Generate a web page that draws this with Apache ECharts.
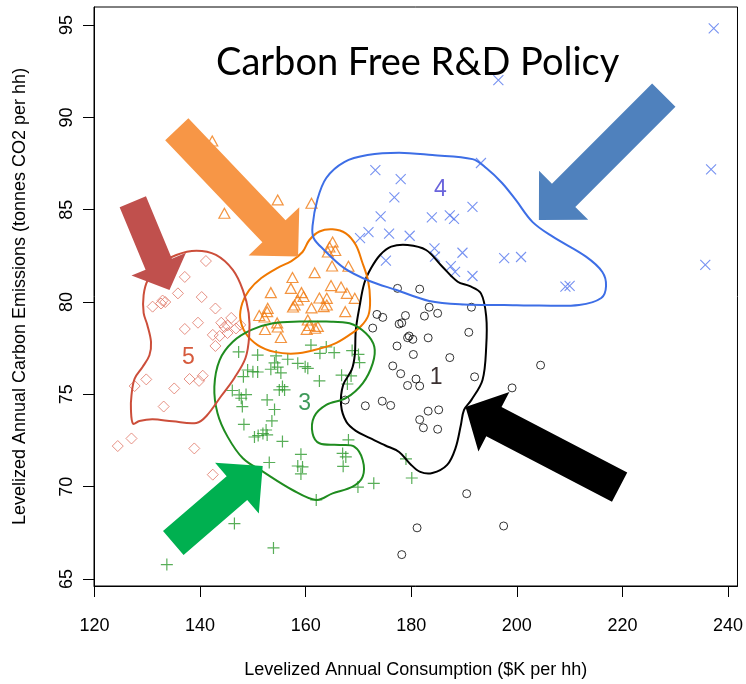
<!DOCTYPE html>
<html>
<head>
<meta charset="utf-8">
<script src="https://cdn.jsdelivr.net/npm/echarts@6/dist/echarts.min.js"></script>
<style>
  html, body { margin: 0; padding: 0; background: #fff; }
  #chart { width: 746px; height: 684px; }
</style>
</head>
<body>
<div id="chart"></div>
<script>
// Axis ticks
const xTicks = [120, 140, 160, 180, 200, 220, 240];
const yTicks = [65, 70, 75, 80, 85, 90, 95];

// Household outcomes per cluster: [consumption $K, emissions t CO2]
const cluster1 = [
  [177.4,80.74],[181.6,80.70],[183.4,79.72],[182.5,79.24],[185.0,79.39],[191.4,79.72],
  [173.5,79.33],[174.6,79.17],[178.9,79.27],[177.7,78.81],[178.2,78.87],[172.7,78.59],
  [179.6,78.16],[179.3,78.07],[180.3,77.98],[183.2,78.06],[190.9,78.36],[177.3,77.62],
  [180.4,77.16],[187.3,76.99],[176.5,76.54],[178.0,76.12],[180.9,75.83],[181.6,75.45],
  [179.3,75.48],[192.0,75.95],[167.5,74.69],[171.3,74.38],[174.5,74.63],[176.1,74.40],
  [183.2,74.09],[185.2,74.16],[181.6,73.63],[182.3,73.19],[185.0,73.11],[204.5,76.58],
  [199.1,75.35],[190.5,69.62],[181.1,67.77],[197.5,67.87],[178.2,66.32]
];
const cluster2 = [
  [142.3,88.72],[144.6,84.81],[154.7,85.53],[161.1,85.35],[165.1,83.25],[164.5,82.98],
  [165.6,82.79],[164.2,82.71],[165.0,81.95],[168.1,81.94],[161.7,81.59],[157.5,81.33],
  [157.2,80.74],[153.4,80.51],[159.2,80.51],[159.6,80.30],[164.8,80.89],[166.7,80.81],
  [167.8,80.47],[169.3,80.20],[162.6,80.22],[164.0,80.20],[164.0,79.84],[163.4,79.75],
  [158.5,80.11],[157.9,79.84],[157.6,79.73],[161.1,79.68],[152.8,79.66],[152.7,79.48],
  [167.5,79.48],[151.2,79.27],[152.2,79.19],[154.6,78.87],[154.7,78.65],[160.4,79.03],
  [160.7,78.73],[162.3,78.68],[161.8,78.58],[160.2,78.52],[152.3,78.51],[155.3,78.08]
];
const cluster3 = [
  [161.0,77.67],[163.9,77.57],[147.3,77.30],[150.9,77.13],[154.4,77.08],[156.6,76.90],
  [162.7,77.22],[165.4,77.26],[168.8,77.37],[170.0,77.16],[170.2,76.72],[154.1,76.70],
  [154.7,76.48],[158.5,76.68],[159.9,76.50],[160.4,76.41],[149.0,76.32],[150.0,76.23],
  [150.9,76.21],[153.4,76.36],[148.2,75.96],[155.3,76.16],[166.8,76.04],[168.6,76.00],
  [162.6,75.73],[167.9,75.56],[155.6,75.42],[155.0,75.24],[156.0,75.24],[146.1,75.21],
  [147.4,74.97],[148.7,74.99],[147.8,74.79],[152.7,74.70],[148.0,74.34],[154.1,74.18],
  [153.6,73.56],[148.3,73.37],[152.5,73.07],[151.9,72.88],[151.0,72.77],[150.3,72.69],
  [152.7,72.80],[155.6,72.45],[168.1,72.53],[153.1,71.31],[159.1,71.75],[158.5,71.12],
  [159.4,71.07],[159.1,70.69],[167.0,71.80],[167.6,71.61],[167.1,71.10],[169.9,69.98],
  [172.9,70.18],[162.0,69.28],[179.0,71.50],[180.1,70.47],[146.5,68.00],[153.9,66.68],
  [133.7,65.78]
];
const cluster4 = [
  [173.2,87.15],[178.0,86.66],[176.8,85.67],[174.2,84.64],[183.9,84.59],[187.3,84.69],
  [188.1,84.51],[191.6,85.15],[193.2,87.53],[170.3,83.46],[171.9,83.79],[175.8,83.71],
  [179.7,83.59],[184.4,82.91],[184.5,82.46],[189.7,82.67],[175.2,82.24],[187.5,81.94],
  [188.3,81.63],[191.6,81.41],[197.6,82.38],[200.8,82.44],[209.2,80.83],[210.0,80.87],
  [196.5,92.02],[237.3,94.82],[236.8,87.19],[235.7,82.01]
];
const cluster5 = [
  [141.1,82.22],[137.1,81.36],[135.8,80.47],[132.9,80.08],[133.4,80.00],[132.6,79.92],
  [131.0,79.75],[140.3,80.27],[142.9,79.65],[137.1,78.54],[139.6,78.88],[145.9,79.14],
  [144.0,78.88],[144.6,78.65],[145.2,78.73],[147.6,78.76],[142.4,78.22],[143.7,78.16],
  [145.2,78.32],[142.9,77.62],[146.8,78.57],[129.8,75.81],[127.6,75.45],[135.1,75.32],
  [138.0,75.83],[139.8,75.73],[140.5,76.01],[133.1,74.34],[127.0,72.61],[124.4,72.20],
  [138.9,72.07],[142.4,70.65]
];

// Density outlines around each cluster (closed rings)
const ring1 = [
  [176.2,83.00],[179.3,83.09],[182.8,82.82],[185.9,81.91],[188.8,81.10],[191.0,80.87],
  [193.2,80.47],[194.2,79.21],[194.2,77.58],[193.5,75.78],[191.4,74.70],[190.0,74.16],
  [189.4,73.34],[188.4,72.10],[186.8,71.18],[184.0,70.74],[181.7,70.80],[179.8,71.23],
  [177.7,71.88],[175.1,72.23],[172.1,72.64],[169.5,73.02],[167.7,73.51],[166.7,74.43],
  [167.1,75.51],[168.7,76.32],[169.3,77.13],[169.5,78.49],[170.2,79.75],[171.1,81.02],
  [172.4,81.84],[174.1,82.55]
];
const ring2 = [
  [162.6,83.82],[165.1,83.94],[167.6,83.72],[169.5,83.09],[170.7,82.17],[171.8,81.19],
  [172.2,80.11],[171.9,79.30],[170.5,78.70],[168.3,78.22],[165.4,77.73],[161.6,77.40],
  [157.9,77.21],[154.1,77.30],[150.9,77.67],[148.6,78.32],[147.6,79.14],[148.0,79.95],
  [149.3,80.65],[151.6,81.30],[154.6,81.84],[157.3,82.22],[159.4,82.71],[160.7,83.36]
];
const ring3 = [
  [149.7,78.49],[153.8,78.85],[158.8,78.94],[163.9,78.94],[168.3,78.85],[171.4,78.31],
  [173.0,77.58],[172.7,76.68],[170.8,75.60],[167.6,74.79],[163.9,74.43],[161.6,73.79],
  [161.3,72.89],[162.6,72.35],[166.4,72.26],[169.2,72.17],[170.8,71.45],[170.8,70.54],
  [168.9,70.00],[165.1,69.64],[162.0,69.28],[157.5,69.82],[151.9,70.81],[148.1,71.54],
  [145.2,72.71],[143.3,73.98],[142.7,75.42],[143.7,76.86],[146.2,77.85]
];
const ring4 = [
  [161.3,84.12],[162.2,85.53],[163.9,86.72],[167.3,87.58],[171.7,87.96],[177.7,88.09],
  [184.0,87.96],[191.6,87.74],[194.2,87.26],[197.2,86.45],[199.8,85.53],[203.0,84.33],
  [206.8,83.54],[213.1,82.46],[216.2,81.63],[216.9,80.87],[216.0,80.22],[211.8,79.84],
  [204.2,79.81],[197.6,79.84],[190.0,79.87],[183.4,80.06],[177.2,80.65],[172.1,81.14],
  [167.3,81.84],[163.5,82.82],[161.5,83.47]
];
const ring5 = [
  [139.3,82.78],[143.0,82.55],[146.2,81.74],[148.1,80.65],[149.2,79.41],[149.3,78.16],
  [148.6,76.97],[146.5,75.89],[144.0,74.91],[141.2,73.83],[139.3,73.45],[134.8,73.54],
  [131.0,73.65],[128.5,73.56],[127.3,73.41],[126.9,74.16],[127.0,74.95],[127.6,75.85],
  [129.1,76.48],[130.4,77.12],[130.7,77.84],[130.0,78.76],[129.3,79.41],[129.3,80.38],
  [130.1,81.19],[132.3,82.01],[135.5,82.55]
];

// Cluster numbers and where they sit
const clusterNames = ['4', '1', '3', '5'];
const clusterNamePos = [[185.5,86.07],[184.7,75.89],[159.8,74.48],[137.8,76.97]];

const axisFont = 'Arial, "Liberation Sans", sans-serif';

const PLUS = 'path://M0,6H12M6,0V12';
const CROSS = 'path://M0,0L10,10M0,10L10,0';

function hollow(color, w) {
  return { color: 'rgba(0,0,0,0)', borderColor: color, borderWidth: w };
}

const outlines = [
  { pts: ring1, color: '#000000' },
  { pts: ring2, color: '#f07800' },
  { pts: ring3, color: '#1f8c1f' },
  { pts: ring4, color: '#3d6ee6' },
  { pts: ring5, color: '#cc4e3a' }
];
const nameColors = ['#6a64dc', '#3a3030', '#3f9a5a', '#d65a3c'];

const chart = echarts.init(document.getElementById('chart'), null, { renderer: 'canvas' });

const option = {
  animation: false,
  backgroundColor: '#ffffff',
  grid: {
    left: 94, right: 7, top: 7, bottom: 98,
    show: true, borderColor: '#000', borderWidth: 1, backgroundColor: 'transparent'
  },
  xAxis: {
    type: 'value', min: 119.9, max: 241.8,
    axisLine: { show: true, onZero: false, lineStyle: { color: '#000', width: 1 } },
    axisTick: { show: true, length: 11, customValues: xTicks, lineStyle: { color: '#000' } },
    axisLabel: { customValues: xTicks, margin: 31, fontSize: 18, color: '#000', fontFamily: axisFont },
    splitLine: { show: false },
    name: 'Levelized Annual Consumption ($K per hh)',
    nameLocation: 'middle', nameGap: 75,
    nameTextStyle: { fontSize: 18, color: '#000', fontFamily: axisFont }
  },
  yAxis: {
    type: 'value', min: 64.62, max: 95.98,
    axisLine: { show: true, onZero: false, lineStyle: { color: '#000', width: 1 } },
    axisTick: { show: true, length: 11, customValues: yTicks, lineStyle: { color: '#000' } },
    axisLabel: { customValues: yTicks, rotate: 90, margin: 18, fontSize: 18, color: '#000', fontFamily: axisFont },
    splitLine: { show: false },
    name: 'Levelized Annual Carbon Emissions (tonnes CO2 per hh)',
    nameLocation: 'middle', nameGap: 65, nameRotate: 90,
    nameTextStyle: { fontSize: 18, color: '#000', fontFamily: axisFont }
  },
  series: [
    { type: 'scatter', data: cluster5, symbol: 'diamond', symbolSize: 11, itemStyle: hollow('#e07565', 1) },
    { type: 'scatter', data: cluster2, symbol: 'triangle', symbolSize: [11, 10], itemStyle: hollow('#f07a12', 1.2) },
    { type: 'scatter', data: cluster3, symbol: PLUS, symbolSize: 12, itemStyle: hollow('#2e9a2e', 1.2) },
    { type: 'scatter', data: cluster1, symbol: 'circle', symbolSize: 8, itemStyle: hollow('#000', 1) },
    { type: 'scatter', data: cluster4, symbol: CROSS, symbolSize: 10, itemStyle: hollow('#5577ee', 1.1) },
    {
      type: 'custom', coordinateSystem: 'cartesian2d', silent: true, z: 3,
      data: outlines.map((o, i) => [o.pts[0][0], o.pts[0][1], i]),
      encode: { x: 0, y: 1 },
      renderItem: function (params, api) {
        const o = outlines[api.value(2)];
        return {
          type: 'polygon',
          shape: { points: o.pts.map(p => api.coord(p)), smooth: 0.35 },
          style: { fill: 'none', stroke: o.color, lineWidth: 2 }
        };
      }
    },
    {
      type: 'custom', coordinateSystem: 'cartesian2d', silent: true, z: 4,
      data: clusterNamePos.map((p, i) => [p[0], p[1], i]),
      encode: { x: 0, y: 1 },
      renderItem: function (params, api) {
        const i = api.value(2);
        const c = api.coord([api.value(0), api.value(1)]);
        return {
          type: 'text', x: c[0], y: c[1],
          style: {
            text: clusterNames[i], fill: nameColors[i],
            font: '23px ' + axisFont, align: 'center', verticalAlign: 'middle'
          }
        };
      }
    }
  ]
};
chart.setOption(option);

// Block arrows pointing at each cluster (tail and tip in data units, widths in px)
const arrows = [
  { from: [135.58, 89.36], to: [158.56, 82.46], shaft: 32, head: 70, headLen: 35, color: '#f79646' },
  { from: [127.25, 85.43], to: [134.20, 80.65], shaft: 28.5, head: 59, headLen: 28, color: '#c0504d' },
  { from: [227.84, 91.21], to: [204.18, 84.44], shaft: 33, head: 69.5, headLen: 35, color: '#4f81bd' },
  { from: [219.47, 69.97], to: [190.28, 74.32], shaft: 33, head: 67, headLen: 32, color: '#000000' },
  { from: [134.92, 66.95], to: [151.86, 71.12], shaft: 31.5, head: 67, headLen: 34, color: '#00b050' }
];

function arrowPolygon(a, b, shaftW, headW, headL) {
  const dx = b[0] - a[0], dy = b[1] - a[1], L = Math.hypot(dx, dy);
  const ux = dx / L, uy = dy / L, nx = -uy, ny = ux;
  const bx = b[0] - ux * headL, by = b[1] - uy * headL;
  const s = shaftW / 2, h = headW / 2;
  return [
    [a[0] + nx * s, a[1] + ny * s], [bx + nx * s, by + ny * s], [bx + nx * h, by + ny * h],
    [b[0], b[1]],
    [bx - nx * h, by - ny * h], [bx - nx * s, by - ny * s], [a[0] - nx * s, a[1] - ny * s]
  ];
}

const graphics = arrows.map(ar => {
  const a = chart.convertToPixel({ gridIndex: 0 }, ar.from);
  const b = chart.convertToPixel({ gridIndex: 0 }, ar.to);
  return {
    type: 'polygon', z: 100, silent: true,
    shape: { points: arrowPolygon(a, b, ar.shaft, ar.head, ar.headLen) },
    style: { fill: ar.color, stroke: null }
  };
});
graphics.push({
  type: 'text', z: 110, left: 216, top: 44, silent: true,
  style: { text: 'Carbon Free R&D Policy', fill: '#000', font: '38px Lato, "Open Sans", sans-serif' }
});
chart.setOption({ graphic: graphics });
</script>
</body>
</html>
